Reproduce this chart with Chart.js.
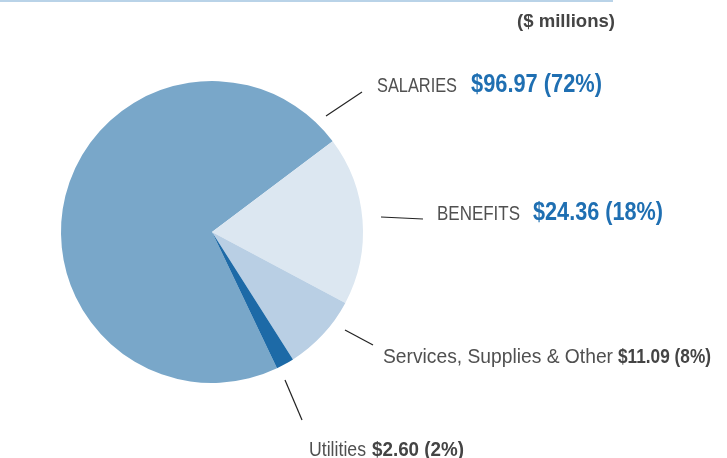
<!DOCTYPE html>
<html>
<head>
<meta charset="utf-8">
<script src="https://cdn.jsdelivr.net/npm/chart.js@4.4.1/dist/chart.umd.min.js"></script>
<style>
  html, body { margin: 0; padding: 0; background: #fff; }
  #wrap { position: relative; width: 727px; height: 458px; }
</style>
</head>
<body>
<div id="wrap"><canvas id="pie" width="727" height="458"></canvas></div>
<script>
// values ($ millions)
var categories = ['SALARIES', 'BENEFITS', 'Services, Supplies & Other', 'Utilities'];
var amounts = [96.97, 24.36, 11.09, 2.60];
var percents = [72, 18, 8, 2];
var colors = ['#79a7c9', '#dce7f1', '#b9cfe4', '#1d6aa7'];

var FONT = '"Liberation Sans", Arial, sans-serif';

/* label placement, px relative to pie centre; widths squeeze the text to a condensed look */
var labelLayout = [
  { line: [114, -116, 150, -140], nameAt: [165, -140], nameW: 80, valAt: [259, -140], valW: 131,
    nameFont: '21px ' + FONT, valFont: 'bold 25px ' + FONT, valColor: '#1f6fb2' },
  { line: [169, -15, 211, -13], nameAt: [225, -12], nameW: 83, valAt: [321, -12], valW: 130,
    nameFont: '21px ' + FONT, valFont: 'bold 25px ' + FONT, valColor: '#1f6fb2' },
  { line: [133, 98, 161, 113], nameAt: [171, 131], nameW: 230, valAt: [406, 131], valW: 93,
    nameFont: '21px ' + FONT, valFont: 'bold 20px ' + FONT, valColor: '#444' },
  { line: [73, 148, 90, 188], nameAt: [97, 224], nameW: 57, valAt: [160, 224], valW: 92,
    nameFont: '21px ' + FONT, valFont: 'bold 20px ' + FONT, valColor: '#444' }
];

function valueText(i) {
  return '$' + amounts[i].toFixed(2) + ' (' + percents[i] + '%)';
}

function squeezeText(ctx, text, x, y, width) {
  var w = ctx.measureText(text).width;
  ctx.save();
  ctx.translate(x, y);
  ctx.scale(width / w, 1);
  ctx.fillText(text, 0, 0);
  ctx.restore();
}

/* draw leader lines, labels and the header bits */
var calloutPlugin = {
  id: 'callouts',
  afterDraw: function(chart) {
    var ctx = chart.ctx;
    var arc = chart.getDatasetMeta(0).data[0];
    var cx = arc.x, cy = arc.y;
    ctx.save();
    ctx.textBaseline = 'alphabetic';

    // top rule + unit note
    ctx.strokeStyle = '#b9d3e8';
    ctx.lineWidth = 2;
    ctx.beginPath();
    ctx.moveTo(0, 1);
    ctx.lineTo(613, 1);
    ctx.stroke();
    ctx.fillStyle = '#444';
    ctx.font = 'bold 19px ' + FONT;
    squeezeText(ctx, '($ millions)', 517, 27, 98);

    for (var i = 0; i < categories.length; i++) {
      var l = labelLayout[i];
      ctx.strokeStyle = '#222';
      ctx.lineWidth = 1.2;
      ctx.beginPath();
      ctx.moveTo(cx + l.line[0], cy + l.line[1]);
      ctx.lineTo(cx + l.line[2], cy + l.line[3]);
      ctx.stroke();

      ctx.font = l.nameFont;
      ctx.fillStyle = '#505050';
      squeezeText(ctx, categories[i], cx + l.nameAt[0], cy + l.nameAt[1], l.nameW);
      ctx.font = l.valFont;
      ctx.fillStyle = l.valColor;
      squeezeText(ctx, valueText(i), cx + l.valAt[0], cy + l.valAt[1], l.valW);
    }
    ctx.restore();
  }
};

new Chart(document.getElementById('pie'), {
  type: 'pie',
  data: {
    labels: categories,
    datasets: [{
      data: amounts,
      backgroundColor: colors,
      borderWidth: 0
    }]
  },
  options: {
    responsive: false,
    animation: false,
    rotation: 154.5,
    layout: { padding: { left: 61, right: 364, top: 81, bottom: 75 } },
    plugins: {
      legend: { display: false },
      tooltip: { enabled: false }
    }
  },
  plugins: [calloutPlugin]
});
</script>
</body>
</html>
